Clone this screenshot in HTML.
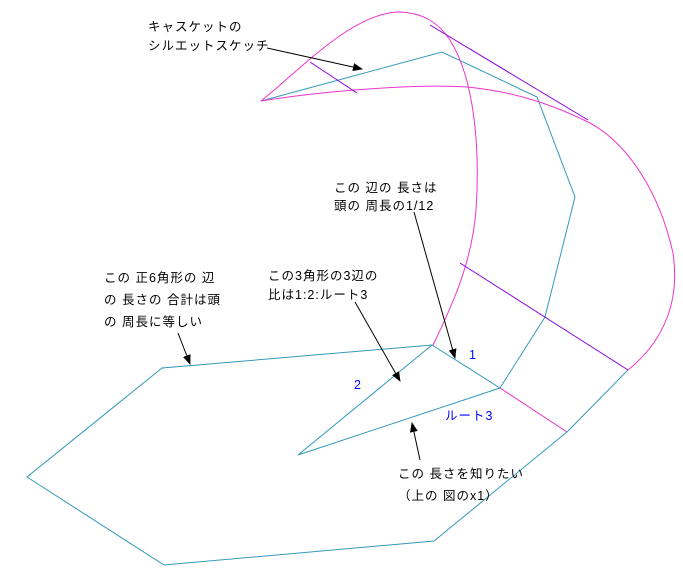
<!DOCTYPE html>
<html><head><meta charset="utf-8"><style>
html,body{margin:0;padding:0;background:#fff;}
svg{display:block}
text{font-family:"Liberation Sans","Noto Sans CJK JP",sans-serif;font-size:12.5px;fill:#000;letter-spacing:1px}
.b{fill:#0000ff}
</style></head><body>
<svg width="683" height="581" viewBox="0 0 683 581" xmlns="http://www.w3.org/2000/svg">
<defs><marker id="ah" markerWidth="10" markerHeight="8" refX="9" refY="4" orient="auto" markerUnits="userSpaceOnUse"><path d="M0,0 L10,4 L0,8 z" fill="#000"/></marker></defs>
<g fill="none" stroke-width="1">
<polyline stroke="#3399bb" points="500,388 432,345 162,368 27,477 164,565 434,541 567,432"/>
<line stroke="#ee33cc" x1="500" y1="388" x2="567" y2="432"/>
<polyline stroke="#3399bb" points="432,345 298,455 500,388"/>
<polyline stroke="#3399bb" points="500,388 545,317 575,197 537,97 442,52 261,101"/>
<line stroke="#3399bb" x1="567" y1="432" x2="628" y2="370"/>
<path stroke="#ee33cc" d="M261,101 C330,90 420,84 467,87 C520,92 560,108 590,123 C630,145 660,195 673,253 C680,300 665,340 628,370"/>
<path stroke="#ee33cc" d="M261,101 C300,70 350,15 397,12 C425,12 440,25 450,40 C475,80 480,150 476,210 C472,260 455,300 433,345"/>
<line stroke="#8800dd" x1="430" y1="25" x2="588" y2="120"/>
<line stroke="#8800dd" x1="460" y1="263" x2="628" y2="370"/>
<line stroke="#8800dd" x1="310" y1="62" x2="357" y2="93"/>
<g stroke="#000">
<line x1="267" y1="48" x2="362" y2="69" marker-end="url(#ah)"/>
<line x1="414" y1="212" x2="455" y2="358" marker-end="url(#ah)"/>
<line x1="355" y1="302" x2="400" y2="381" marker-end="url(#ah)"/>
<line x1="178" y1="333" x2="190" y2="364" marker-end="url(#ah)"/>
<line x1="420" y1="460" x2="412" y2="423" marker-end="url(#ah)"/>
</g>
</g>
<text x="148" y="31">キャスケットの</text>
<text x="148" y="50">シルエットスケッチ</text>
<text x="334" y="192">この 辺の 長さは</text>
<text x="334" y="210">頭の 周長の1/12</text>
<text x="268" y="280">この3角形の3辺の</text>
<text x="268" y="299">比は1:2:ルート3</text>
<text x="104" y="282">この 正6角形の 辺</text>
<text x="104" y="304">の 長さの 合計は頭</text>
<text x="104" y="326">の 周長に等しい</text>
<text class="b" x="469" y="359">1</text>
<text class="b" x="354" y="389">2</text>
<text class="b" x="445" y="420">ルート3</text>
<text x="398" y="478">この 長さを知りたい</text>
<text x="398" y="500">（上の 図のx1）</text>
</svg>
</body></html>
